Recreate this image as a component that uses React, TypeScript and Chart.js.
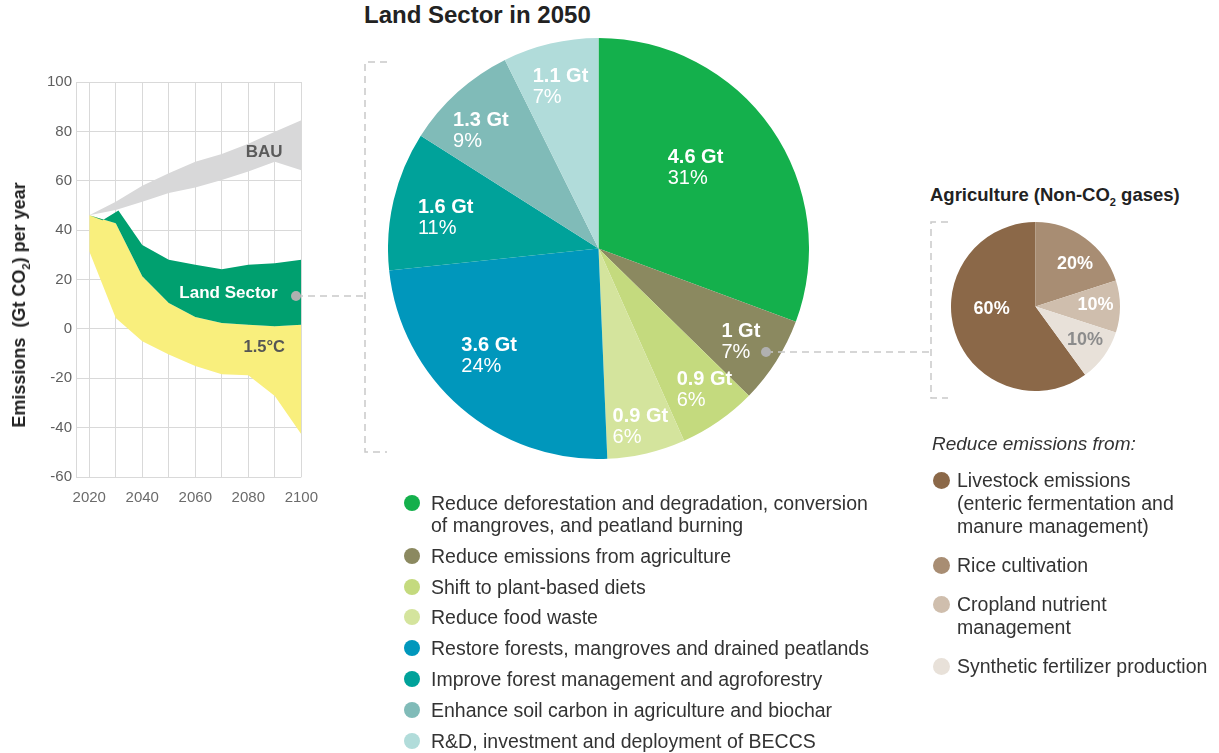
import React, { useEffect, useRef } from "react";
import { Chart, registerables } from "chart.js";

Chart.register(...registerables);

const FONT = '"Liberation Sans", Arial, Helvetica, sans-serif';

// ---------- Left chart: emission pathways ----------
const xTickYears = [2020, 2030, 2040, 2050, 2060, 2070, 2080, 2090, 2100];
const bauYears = [2020, 2030, 2040, 2050, 2060, 2070, 2080, 2090, 2100];
const bauLow = [46, 48.2, 51.5, 55, 57.3, 60.3, 63.7, 67.7, 64.3];
const bauHigh = [46, 51.5, 58, 63, 67.7, 70.8, 75, 79.8, 84.5];
const landYears = [2020, 2025, 2031, 2040, 2050, 2060, 2070, 2080, 2090, 2100];
const landHigh = [46, 44, 48, 34, 28, 26, 24.2, 26, 26.6, 28];
const pathYears = [2020, 2030, 2040, 2050, 2060, 2070, 2080, 2090, 2100];
const pathHigh = [46, 42.8, 21.3, 10.5, 4.8, 2.4, 1.7, 1.1, 1.7];
const pathLow = [31.4, 4.4, -5, -10.4, -15, -18.4, -18.8, -27.2, -42.7];

const bandNotes = [
  { text: "BAU", year: 2086, value: 71.7, color: "#5a5a5a", size: 17 },
  { text: "Land Sector", year: 2072.5, value: 14.6, color: "#ffffff", size: 17 },
  { text: "1.5°C", year: 2086, value: -7.7, color: "#555555", size: 16.5 },
];

// ---------- Middle pie: Land sector in 2050 ----------
const landNames = [
  ["Reduce deforestation and degradation, conversion", "of mangroves, and peatland burning"],
  ["Reduce emissions from agriculture"],
  ["Shift to plant-based diets"],
  ["Reduce food waste"],
  ["Restore forests, mangroves and drained peatlands"],
  ["Improve forest management and agroforestry"],
  ["Enhance soil carbon in agriculture and biochar"],
  ["R&D, investment and deployment of BECCS"],
];
const landGt = [4.6, 1, 0.9, 0.9, 3.6, 1.6, 1.3, 1.1];
const landPct = [31, 7, 6, 6, 24, 11, 9, 7];
const landColors = ["#14b04c", "#8b8960", "#c4da7e", "#d4e49d", "#0097bc", "#00a29a", "#80bbb8", "#b1dcda"];
const landLabelRadius = [0.6, 0.81, 0.84, 0.87, 0.73, 0.74, 0.79, 0.79];
const landLabelShift = [-5, 1, -2, 0, 4.6, -2, -3, 0];

// ---------- Right pie: Agriculture (non-CO2) ----------
const agriNames = [
  ["Livestock emissions", "(enteric fermentation and", "manure management)"],
  ["Rice cultivation"],
  ["Cropland nutrient", "management"],
  ["Synthetic fertilizer production"],
];
const agriShares = [60, 20, 10, 10];
const agriColors = ["#8b6848", "#a88d73", "#cfbead", "#e8e1d9"];
const agriTextColors = ["#ffffff", "#ffffff", "#ffffff", "#8c8c8c"];
const agriLabelRadius = [0.52, 0.69, 0.71, 0.71];
const agriLabelShift = [15, 6.6, -1, -1.5];

const GRID = "#d9d9d9";

function leftConfig(): any {
  const pts = (xs: number[], ys: number[]) => xs.map((x, i) => ({ x, y: ys[i] }));
  const base = { borderWidth: 0, pointRadius: 0, tension: 0 };
  const notesPlugin = {
    id: "bandNotes",
    afterDatasetsDraw(chart: any) {
      const { ctx, scales } = chart;
      ctx.save();
      ctx.textAlign = "center";
      ctx.textBaseline = "middle";
      bandNotes.forEach((n) => {
        ctx.font = `bold ${n.size}px ${FONT}`;
        ctx.fillStyle = n.color;
        ctx.fillText(n.text, scales.x.getPixelForValue(n.year), scales.y.getPixelForValue(n.value));
      });
      ctx.restore();
    },
  };
  return {
    type: "line",
    data: {
      datasets: [
        { ...base, label: "BAU low", data: pts(bauYears, bauLow), fill: false, order: 2 },
        { ...base, label: "BAU", data: pts(bauYears, bauHigh), fill: "-1", backgroundColor: "#d8d8d9", order: 2 },
        { ...base, label: "1.5 low", data: pts(pathYears, pathLow), fill: false, order: 1 },
        { ...base, label: "1.5°C", data: pts(pathYears, pathHigh), fill: "-1", backgroundColor: "#f9ef7d", order: 1 },
        { ...base, label: "Land Sector", data: pts(landYears, landHigh), fill: "-1", backgroundColor: "#00a06f", order: 0 },
      ],
    },
    options: {
      responsive: false,
      animation: false,
      devicePixelRatio: 1,
      layout: { padding: { top: 22, right: 23, left: 0, bottom: 0 } },
      plugins: { legend: { display: false }, tooltip: { enabled: false } },
      scales: {
        x: {
          type: "linear",
          min: 2015,
          max: 2100,
          afterBuildTicks: (s: any) => {
            s.ticks = xTickYears.map((v) => ({ value: v }));
          },
          afterFit: (s: any) => {
            s.height = 43;
          },
          ticks: {
            autoSkip: false,
            maxRotation: 0,
            padding: 12,
            color: "#6b6b6b",
            font: { family: FONT, size: 15 },
            callback: (v: any) => (v % 20 === 0 ? String(v) : ""),
          },
          grid: { color: GRID, drawTicks: false },
          border: { display: false },
        },
        y: {
          min: -60,
          max: 100,
          afterFit: (s: any) => {
            s.width = 76;
          },
          ticks: { stepSize: 20, padding: 4, color: "#5f5f5f", font: { family: FONT, size: 15 } },
          grid: { color: GRID, drawTicks: false },
          border: { display: true, color: GRID },
        },
      },
    },
    plugins: [notesPlugin],
  };
}

function arcLabelPlugin(id: string, draw: (ctx: any, i: number, cx: number, cy: number) => void, radius: number[], shift: number[]) {
  return {
    id,
    afterDatasetsDraw(chart: any) {
      const ctx = chart.ctx;
      const meta = chart.getDatasetMeta(0);
      ctx.save();
      meta.data.forEach((arc: any, i: number) => {
        const p = arc.getProps(["x", "y", "startAngle", "endAngle", "outerRadius"], true);
        const mid = (p.startAngle + p.endAngle) / 2 + (shift[i] * Math.PI) / 180;
        const r = p.outerRadius * radius[i];
        draw(ctx, i, p.x + Math.cos(mid) * r, p.y + Math.sin(mid) * r);
      });
      ctx.restore();
    },
  };
}

function landConfig(): any {
  const plugin = arcLabelPlugin(
    "landLabels",
    (ctx, i, cx, cy) => {
      const l1 = `${landGt[i]} Gt`;
      const l2 = `${landPct[i]}%`;
      ctx.fillStyle = "#ffffff";
      ctx.textBaseline = "middle";
      ctx.textAlign = "left";
      ctx.font = `bold 20px ${FONT}`;
      const w = ctx.measureText(l1).width;
      const left = cx - w / 2;
      ctx.fillText(l1, left, cy - 10.5);
      ctx.font = `20px ${FONT}`;
      ctx.fillText(l2, left, cy + 10.5);
    },
    landLabelRadius,
    landLabelShift
  );
  return {
    type: "pie",
    data: {
      labels: landNames.map((n) => n.join(" ")),
      datasets: [{ data: landGt, backgroundColor: landColors, borderWidth: 0 }],
    },
    options: {
      responsive: false,
      animation: false,
      devicePixelRatio: 1,
      layout: { padding: 0 },
      plugins: { legend: { display: false }, tooltip: { enabled: false } },
    },
    plugins: [plugin],
  };
}

function agriConfig(): any {
  const total = agriShares.reduce((a, b) => a + b, 0);
  const plugin = arcLabelPlugin(
    "agriLabels",
    (ctx, i, cx, cy) => {
      ctx.fillStyle = agriTextColors[i];
      ctx.textBaseline = "middle";
      ctx.textAlign = "center";
      ctx.font = `bold 18px ${FONT}`;
      ctx.fillText(`${agriShares[i]}%`, cx, cy);
    },
    agriLabelRadius,
    agriLabelShift
  );
  return {
    type: "pie",
    data: {
      labels: agriNames.map((n) => n.join(" ")),
      datasets: [{ data: agriShares, backgroundColor: agriColors, borderWidth: 0 }],
    },
    options: {
      responsive: false,
      animation: false,
      devicePixelRatio: 1,
      rotation: 360 - (agriShares[0] / total) * 360,
      layout: { padding: 0 },
      plugins: { legend: { display: false }, tooltip: { enabled: false } },
    },
    plugins: [plugin],
  };
}

function useChart(ref: React.RefObject<HTMLCanvasElement | null>, build: () => any) {
  useEffect(() => {
    if (!ref.current) return;
    const c = new Chart(ref.current, build());
    return () => c.destroy();
  }, []);
}

const dot = (color: string, size: number): React.CSSProperties => ({
  position: "absolute",
  left: 0,
  top: 11 - size / 2,
  width: size,
  height: size,
  borderRadius: "50%",
  background: color,
});

export default function App() {
  const leftRef = useRef<HTMLCanvasElement>(null);
  const landRef = useRef<HTMLCanvasElement>(null);
  const agriRef = useRef<HTMLCanvasElement>(null);
  useChart(leftRef, leftConfig);
  useChart(landRef, landConfig);
  useChart(agriRef, agriConfig);

  const dash = { stroke: "#c9c9c9", strokeWidth: 1.5, strokeDasharray: "7 5", fill: "none" };

  return (
    <div
      style={{
        position: "absolute",
        left: 0,
        top: 0,
        width: 1219,
        height: 753,
        background: "#fff",
        overflow: "hidden",
        fontFamily: FONT,
        color: "#333",
      }}
    >
      <canvas ref={leftRef} width={330} height={460} style={{ position: "absolute", left: 0, top: 60, width: 330, height: 460 }} />
      <div
        style={{
          position: "absolute",
          left: 19,
          top: 305,
          transform: "translate(-50%,-50%) rotate(-90deg)",
          whiteSpace: "nowrap",
          fontWeight: "bold",
          fontSize: 18,
          lineHeight: "20px",
          color: "#222",
        }}
      >
        Emissions&nbsp;&nbsp;(Gt CO<sub style={{ fontSize: 11, lineHeight: 0 }}>2</sub>) per year
      </div>

      <div style={{ position: "absolute", left: 364, top: 1, fontSize: 24, fontWeight: "bold", color: "#222", whiteSpace: "nowrap" }}>
        Land Sector in 2050
      </div>
      <canvas ref={landRef} width={421} height={421} style={{ position: "absolute", left: 388, top: 38, width: 421, height: 421 }} />

      <div style={{ position: "absolute", left: 930, top: 184, fontSize: 18.5, fontWeight: "bold", color: "#222", whiteSpace: "nowrap" }}>
        Agriculture (Non-CO<sub style={{ fontSize: 11, lineHeight: 0 }}>2</sub> gases)
      </div>
      <canvas ref={agriRef} width={169} height={169} style={{ position: "absolute", left: 951, top: 222, width: 169, height: 169 }} />

      <svg width={1219} height={753} style={{ position: "absolute", left: 0, top: 0, pointerEvents: "none" }}>
        <path d="M387 62 H365 V452 H387" {...dash} />
        <line x1={296} y1={296} x2={365} y2={296} {...dash} />
        <circle cx={296} cy={296} r={5} fill="#b0b0b0" />
        <path d="M948 222 H931 V398 H948" {...dash} />
        <line x1={766} y1={352} x2={931} y2={352} {...dash} />
        <circle cx={766} cy={352} r={5} fill="#b0b0b0" />
      </svg>

      <div style={{ position: "absolute", left: 404, top: 492, fontSize: 19.5, lineHeight: "22px", whiteSpace: "nowrap" }}>
        {landNames.map((lines, i) => (
          <div key={i} style={{ position: "relative", paddingLeft: 27, marginBottom: 8.8 }}>
            <div style={dot(landColors[i], 16)} />
            {lines.map((t, j) => (
              <div key={j}>{t}</div>
            ))}
          </div>
        ))}
      </div>

      <div style={{ position: "absolute", left: 932, top: 433, fontSize: 19, fontStyle: "italic", color: "#333", whiteSpace: "nowrap" }}>
        Reduce emissions from:
      </div>
      <div style={{ position: "absolute", left: 933, top: 468.5, fontSize: 19.5, lineHeight: "23px", whiteSpace: "nowrap" }}>
        {agriNames.map((lines, i) => (
          <div key={i} style={{ position: "relative", paddingLeft: 24, marginBottom: 16 }}>
            <div style={{ ...dot(agriColors[i], 17), top: 11.5 - 8.5 }} />
            {lines.map((t, j) => (
              <div key={j}>{t}</div>
            ))}
          </div>
        ))}
      </div>
    </div>
  );
}
